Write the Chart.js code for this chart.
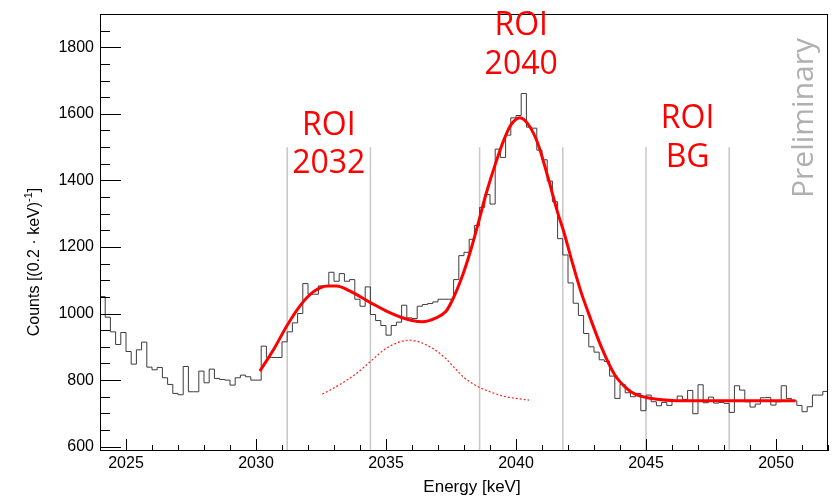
<!DOCTYPE html>
<html><head><meta charset="utf-8">
<script src="https://cdn.jsdelivr.net/npm/chart.js@4/dist/chart.umd.min.js"></script>
<style>html,body{margin:0;padding:0;background:#fff;}canvas{display:block;}</style>
</head><body>
<canvas id="c" width="833" height="498"></canvas>
<script>
// ---- data ----
const binStart = 2024.0;
const binWidth = 0.2;
const counts = [
 1051, 989, 945, 907, 943, 886, 848, 891, 914, 839,
 831, 838, 807, 787, 760, 756, 841, 765, 765, 827,
 792, 833, 805, 802, 800, 785, 807, 815, 810, 800,
 800, 902, 868, 868, 868, 915, 945, 972, 1000, 1090,
 1058, 1058, 1083, 1083, 1124, 1097, 1120, 1097, 1102, 1043,
 1022, 1080, 997, 979, 964, 935, 964, 974, 1025, 987,
 985, 1022, 1027, 1030, 1035, 1043, 1043, 1043, 1102, 1174,
 1184, 1223, 1265, 1319, 1358, 1329, 1494, 1469, 1536, 1588,
 1595, 1661, 1560, 1557, 1491, 1462, 1398, 1336, 1225, 1176,
 1092, 1031, 994, 940, 900, 884, 861, 856, 812, 745,
 787, 762, 750, 760, 708, 755, 735, 723, 733, 724,
 738, 752, 742, 769, 699, 786, 732, 749, 731, 733,
 730, 703, 783, 770, 735, 719, 728, 747, 748, 725,
 735, 783, 745, 738, 724, 705, 720, 755, 755, 766
];
const fitEnergy = [2030.15, 2030.7, 2031.2, 2031.7, 2032.2, 2032.75, 2033.1, 2033.6, 2034.4, 2035.1,
 2035.6, 2036.0, 2036.4, 2036.9, 2037.3, 2037.55, 2037.95, 2038.25, 2038.45, 2038.62,
 2038.85, 2039.23, 2039.55, 2039.8, 2040.15, 2040.5, 2040.84, 2041.22, 2041.6, 2041.84,
 2042.12, 2042.5, 2042.77, 2043.28, 2043.79, 2044.3, 2044.6, 2045.0, 2045.5, 2046.0,
 2047.0, 2048.0, 2049.0, 2050.0, 2050.75];
const fitCounts = [827, 895, 965, 1024, 1065, 1083, 1083, 1068, 1033, 1004,
 988, 979, 975, 986, 1006, 1040, 1116, 1188, 1243, 1293,
 1360, 1455, 1525, 1566, 1588, 1565, 1511, 1412, 1304, 1245,
 1166, 1065, 1005, 900, 817, 772, 757, 748, 742, 739,
 738, 738, 738, 738, 738];
const compEnergy = [2032.55, 2032.9, 2033.4, 2033.9, 2034.4, 2035.0, 2035.5, 2035.9, 2036.3, 2036.8,
 2037.3, 2037.6, 2038.0, 2038.5, 2039.0, 2039.5, 2040.0, 2040.5];
const compCounts = [758, 772, 795, 822, 856, 895, 914, 920, 914, 895,
 865, 840, 808, 782, 765, 752, 745, 740];
const roiEdges = [2031.2, 2034.4, 2038.6, 2041.8, 2045.0, 2048.2];
const roiLineTop = 1500;
const roiNames = [["ROI", "2032"], ["ROI", "2040"], ["ROI", "BG"]];
const xTickLabels = [2025, 2030, 2035, 2040, 2045, 2050];
const yTickLabels = [600, 800, 1000, 1200, 1400, 1600, 1800];
const xRange = [2024, 2052];
const yRange = [587, 1900];

// ---- build library tables ----
const histPts = counts.map((c, i) => ({x: binStart + i * binWidth, y: c}));
histPts.push({x: binStart + counts.length * binWidth, y: counts[counts.length - 1]});
const fitPts = fitEnergy.map((e, i) => ({x: e, y: fitCounts[i]}));
const compPts = compEnergy.map((e, i) => ({x: e, y: compCounts[i]}));
const roiPts = [];
roiEdges.forEach(e => { roiPts.push({x: e, y: yRange[0]}, {x: e, y: roiLineTop}, {x: e, y: null}); });

const FONT = '"Liberation Sans", Arial, sans-serif';

const decor = {
  id: 'decor',
  afterDatasetsDraw(chart) {
    const {ctx, chartArea: a, scales: {x, y}} = chart;
    ctx.save();
    ctx.strokeStyle = '#000';
    ctx.lineWidth = 1;
    ctx.strokeRect(a.left + 0.5, a.top + 0.5, a.right - a.left - 1, a.bottom - a.top - 1);
    for (let e = Math.ceil(x.min); e <= x.max; e++) {
      const px = Math.round(x.getPixelForValue(e)) + 0.5;
      const len = (e % 5 === 0) ? 12 : 6;
      ctx.beginPath(); ctx.moveTo(px, a.bottom); ctx.lineTo(px, a.bottom - len); ctx.stroke();
    }
    for (let v = Math.ceil(y.min / 50) * 50; v <= y.max; v += 50) {
      const py = Math.round(y.getPixelForValue(v)) + 0.5;
      const len = (v % 200 === 0) ? 21 : 10;
      ctx.beginPath(); ctx.moveTo(a.left, py); ctx.lineTo(a.left + len, py); ctx.stroke();
    }
    ctx.restore();
  },
  afterDraw(chart) {
    const {ctx, scales: {x}} = chart;
    ctx.save();
    // ROI labels
    ctx.fillStyle = '#ff0000';
    ctx.font = '32px "Open Sans", sans-serif';
    ctx.textAlign = 'center';
    ctx.textBaseline = 'alphabetic';
    const centersY = [[124, 162], [24, 63], [117, 156]];
    const capOff = 0.357 * 32;
    roiNames.forEach((lines, k) => {
      const mid = (roiEdges[2 * k] + roiEdges[2 * k + 1]) / 2;
      const px = x.getPixelForValue(mid);
      lines.forEach((t, j) => ctx.fillText(t, px, centersY[k][j] + capOff));
    });
    // Preliminary
    ctx.save();
    ctx.fillStyle = '#b0b0b0';
    ctx.font = '30px "Open Sans", sans-serif';
    ctx.translate(813, 118);
    ctx.rotate(-Math.PI / 2);
    ctx.textAlign = 'center';
    ctx.fillText('Preliminary', 0, 0);
    ctx.restore();
    // axis titles
    ctx.fillStyle = '#000';
    ctx.font = '17px ' + FONT;
    ctx.textAlign = 'center';
    ctx.fillText('Energy [keV]', 472, 492);
    ctx.save();
    ctx.translate(38.5, 262);
    ctx.rotate(-Math.PI / 2);
    ctx.textAlign = 'left';
    const mainF = '16px ' + FONT, supF = '11px ' + FONT;
    const t1 = 'Counts [(0.2 \u00b7 keV)', t2 = '-1', t3 = ']';
    ctx.font = mainF; const w1 = ctx.measureText(t1).width, w3 = ctx.measureText(t3).width;
    ctx.font = supF; const w2 = ctx.measureText(t2).width;
    let sx = -(w1 + w2 + w3) / 2;
    ctx.font = mainF; ctx.fillText(t1, sx, 0); sx += w1;
    ctx.font = supF; ctx.fillText(t2, sx, -7); sx += w2;
    ctx.font = mainF; ctx.fillText(t3, sx, 0);
    ctx.restore();
    ctx.restore();
  }
};

new Chart(document.getElementById('c'), {
  type: 'scatter',
  data: {
    datasets: [
      {data: fitPts, showLine: true, borderColor: '#ff0000', borderWidth: 3, pointRadius: 0,
       tension: 0.4, cubicInterpolationMode: 'monotone', order: 0},
      {data: compPts, showLine: true, borderColor: '#ff2020', borderWidth: 1.2, borderDash: [2, 2],
       pointRadius: 0, tension: 0.4, cubicInterpolationMode: 'monotone', order: 1},
      {data: histPts, showLine: true, stepped: true, borderColor: '#3c3c3c', borderWidth: 1,
       pointRadius: 0, order: 2},
      {data: roiPts, showLine: true, spanGaps: false, borderColor: '#c8c8c8', borderWidth: 1.5,
       pointRadius: 0, order: 3}
    ]
  },
  options: {
    responsive: false,
    devicePixelRatio: 1,
    animation: false,
    events: [],
    layout: {padding: {top: 9, right: 5, left: 0, bottom: 0}},
    plugins: {legend: {display: false}, tooltip: {enabled: false}},
    scales: {
      x: {
        type: 'linear', min: xRange[0], max: xRange[1],
        grid: {display: false, drawTicks: false}, border: {display: false},
        ticks: {font: {family: FONT, size: 16, lineHeight: 1}, color: '#000', padding: 5,
                autoSkip: false, maxRotation: 0, includeBounds: false, callback: v => String(v)},
        afterBuildTicks: s => { s.ticks = xTickLabels.map(v => ({value: v})); },
        afterFit: s => { s.height = 47; }
      },
      y: {
        type: 'linear', min: yRange[0], max: yRange[1],
        grid: {display: false, drawTicks: false}, border: {display: false},
        ticks: {font: {family: FONT, size: 16, lineHeight: 1}, color: '#000', padding: 6,
                autoSkip: false, includeBounds: false, callback: v => String(v)},
        afterBuildTicks: s => { s.ticks = yTickLabels.map(v => ({value: v})); },
        afterFit: s => { s.width = 100; }
      }
    }
  },
  plugins: [decor]
});
</script>
</body></html>
